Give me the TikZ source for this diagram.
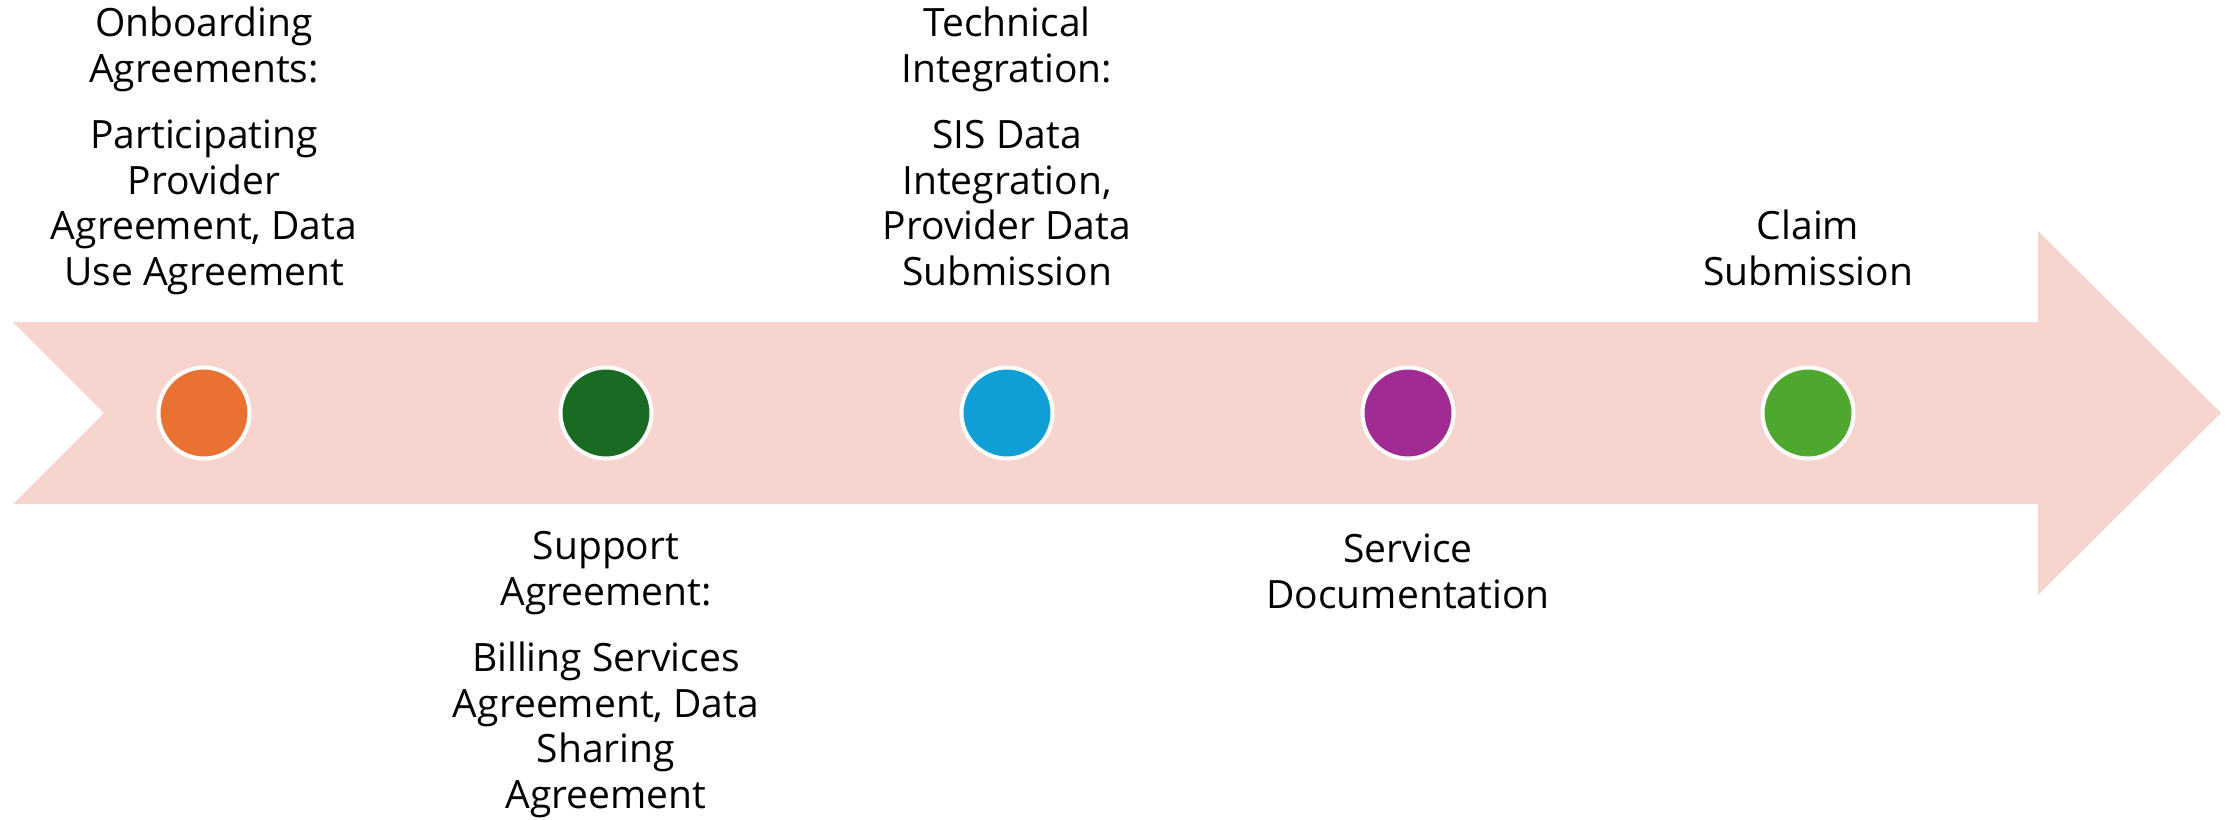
\documentclass[tikz,border=0pt]{standalone}
\usepackage{fontspec}
\setmainfont{Open Sans}
\definecolor{arrowpink}{HTML}{F7D5CE}
\definecolor{corange}{HTML}{E97132}
\definecolor{cdkgreen}{HTML}{196B24}
\definecolor{cblue}{HTML}{0F9ED5}
\definecolor{cpurple}{HTML}{A02B93}
\definecolor{cgreen}{HTML}{4EA72E}
\tikzset{
  dot/.style={circle, draw=white, line width=2pt, minimum size=45.5pt, inner sep=0pt, fill=#1},
  lbl/.style={align=center, anchor=base, inner sep=0pt, font=\fontsize{19.5}{22.75}\selectfont},
}
\begin{document}
\begin{tikzpicture}[x=0.5pt,y=-0.5pt]
\useasboundingbox (0,0) rectangle (2236,819);
\fill[arrowpink] (13,322) -- (2038,322) -- (2038,231) -- (2221,413) -- (2038,595)
  -- (2038,504) -- (13,504) -- (104,413) -- cycle;
\node[dot=corange] (d1) at (204,413) {};
\node[dot=cdkgreen] (d2) at (606,413) {};
\node[dot=cblue] (d3) at (1007,413) {};
\node[dot=cpurple] (d4) at (1408,413) {};
\node[dot=cgreen] (d5) at (1808,413) {};
\node[lbl] (t1) at (204,285) {Onboarding\\Agreements:\\[10.5pt]Participating\\Provider\\Agreement, Data\\Use Agreement};
\node[lbl] (t2) at (606,808) {Support\\Agreement:\\[10.5pt]Billing Services\\Agreement, Data\\Sharing\\Agreement};
\node[lbl] (t3) at (1007,285) {Technical\\Integration:\\[10.5pt]SIS Data\\Integration,\\Provider Data\\Submission};
\node[lbl] (t4) at (1408,608) {Service\\Documentation};
\node[lbl] (t5) at (1808,285) {Claim\\Submission};
\end{tikzpicture}
\end{document}
